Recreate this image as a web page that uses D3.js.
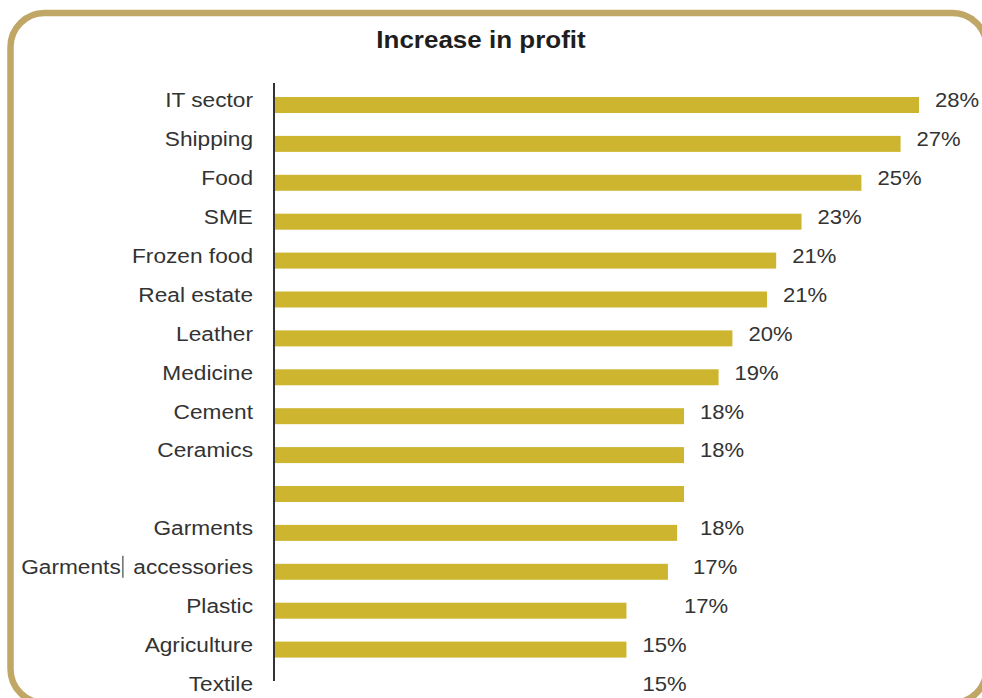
<!DOCTYPE html>
<html>
<head>
<meta charset="utf-8">
<script src="https://cdn.jsdelivr.net/npm/d3@7"></script>
<style>
  body { margin: 0; background: #fff; }
  svg { display: block; }
  text { font-family: "Liberation Sans", Arial, sans-serif; fill: #333; white-space: pre; }
</style>
</head>
<body>
<svg id="chart" width="982" height="698"></svg>
<script>
// categories, in the order the bars are drawn
const categories = ["IT sector", "Shipping", "Food", "SME", "Frozen food", "Real estate",
  "Leather", "Medicine", "Cement", "Ceramics", "Garments", "Garments  accessories",
  "Plastic", "Agriculture", "Textile"]

// bar lengths (percent)
const barValues = [28, 27.2, 25.5, 22.9, 21.8, 21.4, 19.9, 19.3, 17.8, 17.8, 17.8, 17.5, 17.1, 15.3, 15.3]

// printed value labels
const valueLabels = ["28%", "27%", "25%", "23%", "21%", "21%", "20%", "19%", "18%", "18%",
  "18%", "17%", "17%", "15%", "15%"]

const title = "Increase in profit"

const config = {
  width: 982,
  height: 698,
  axisX: 274,
  labelX: 253,
  barColor: "#cdb52f",
  frameColor: "#c1a766",
  rowStep: 38.9,
  textGapAfter: 10 // the text column leaves an empty row after this many entries
}

// the source image is a little stretched sideways
const stretch = (x, s) => `translate(${x},0) scale(${s},1) translate(${-x},0)`

const svg = d3.select("#chart")

// rounded frame
svg.append("rect")
  .attr("x", 10.5)
  .attr("y", 13)
  .attr("width", 976)
  .attr("height", 690)
  .attr("rx", 34)
  .attr("fill", "none")
  .attr("stroke", config.frameColor)
  .attr("stroke-width", 6.5)

svg.append("text")
  .attr("x", 481)
  .attr("y", 48)
  .attr("text-anchor", "middle")
  .attr("transform", stretch(481, 1.13))
  .style("font-size", "23px")
  .style("font-weight", "bold")
  .style("fill", "#1e1e1e")
  .text(title)

const xScale = d3.scaleLinear()
  .domain([0, 28])
  .range([config.axisX, 919])

const barPad = 0.589
const barTop = 97 - config.rowStep * barPad
const yBar = d3.scaleBand()
  .domain(categories)
  .range([barTop, barTop + config.rowStep * (categories.length + barPad)])
  .paddingInner(barPad)
  .paddingOuter(barPad)

const textRows = categories.length + 1
const yText = d3.scaleBand()
  .domain(d3.range(textRows))
  .range([100 - config.rowStep / 2, 100 - config.rowStep / 2 + config.rowStep * textRows])

const textRow = (i) => i < config.textGapAfter ? i : i + 1
const textY = (d) => yText(textRow(d.i)) + yText.bandwidth() / 2

const rows = categories.map((c, i) => ({ cat: c, value: barValues[i], label: valueLabels[i], i }))

svg.append("g")
  .selectAll("rect")
  .data(rows)
  .enter()
  .append("rect")
  .attr("x", xScale(0) + 1)
  .attr("y", (d) => yBar(d.cat))
  .attr("width", (d) => xScale(d.value) - xScale(0) - 1)
  .attr("height", yBar.bandwidth())
  .attr("fill", config.barColor)

// vertical axis line
svg.append("line")
  .attr("x1", config.axisX)
  .attr("x2", config.axisX)
  .attr("y1", 83)
  .attr("y2", 681)
  .attr("stroke", "#333")
  .attr("stroke-width", 2)

const labelGroup = svg.append("g")
  .attr("transform", stretch(config.labelX, 1.08))

const labels = labelGroup
  .selectAll("text")
  .data(rows)
  .enter()
  .append("text")
  .attr("x", config.labelX)
  .attr("y", textY)
  .attr("dy", "0.35em")
  .attr("text-anchor", "end")
  .style("font-size", "21px")
  .text((d) => d.cat)

svg.append("g")
  .selectAll("text")
  .data(rows)
  .enter()
  .append("text")
  .attr("x", (d) => xScale(d.value) + 16)
  .attr("y", textY)
  .attr("dy", "0.35em")
  .attr("transform", (d) => stretch(xScale(d.value) + 16, 1.05))
  .style("font-size", "21px")
  .text((d) => d.label)

// the stray text cursor after "Garments" in the original
labels.filter((d) => d.cat.startsWith("Garments ")).each(function (d) {
  const x0 = config.labelX - this.getComputedTextLength()
  const cut = this.getSubStringLength(0, 8)
  const cy = textY(d)
  labelGroup.append("line")
    .attr("x1", x0 + cut + 2)
    .attr("x2", x0 + cut + 2)
    .attr("y1", cy - 11)
    .attr("y2", cy + 11)
    .attr("stroke", "#333")
    .attr("stroke-width", 1)
})
</script>
</body>
</html>
